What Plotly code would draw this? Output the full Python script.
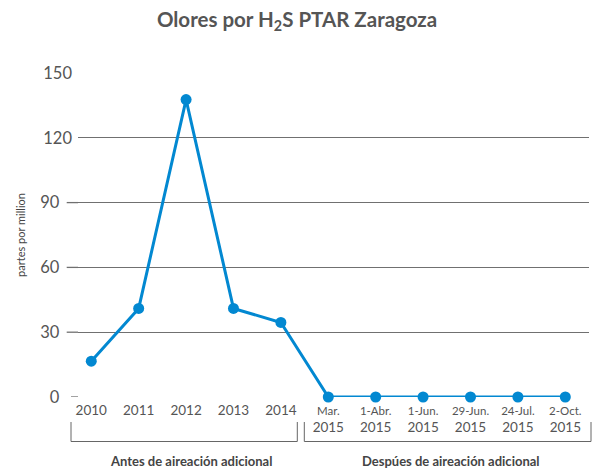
import plotly.graph_objects as go

categories = ["2010", "2011", "2012", "2013", "2014",
              "Mar. 2015", "1-Abr. 2015", "1-Jun. 2015", "29-Jun. 2015",
              "24-Jul. 2015", "2-Oct. 2015"]
values = [16.6, 41, 137.7, 41, 34.5, 0, 0, 0, 0, 0, 0]
tick_top = ["", "", "", "", "", "Mar.", "1-Abr.", "1-Jun.", "29-Jun.", "24-Jul.", "2-Oct."]
tick_bottom = ["2010", "2011", "2012", "2013", "2014", "2015", "2015", "2015", "2015", "2015", "2015"]
y_ticks = [0, 30, 60, 90, 120, 150]
group_labels = ["Antes de aireación adicional", "Despúes de aireación adicional"]

FONT = "Lato, 'Open Sans', sans-serif"
GRAY = "#555555"
BLUE = "#0288D1"

ticktext = []
for t, b in zip(tick_top, tick_bottom):
    if t:
        ticktext.append(f"<span style='font-size:11.5px'>{t}</span><br>{b}")
    else:
        ticktext.append(b)

nb = "\u00a0"
ytext = []
for v in y_ticks:
    s = str(v)
    if v < 100:
        s = s + nb * 3
    ytext.append(s)

fig = go.Figure()
fig.add_trace(go.Scatter(
    x=categories, y=values, mode="lines+markers",
    line=dict(color=BLUE, width=3),
    marker=dict(color=BLUE, size=11),
    cliponaxis=False, showlegend=False,
))

fig.update_layout(
    width=594, height=470,
    margin=dict(l=78, r=5, t=73, b=73),
    plot_bgcolor="white", paper_bgcolor="white",
    font=dict(family=FONT, color=GRAY),
    title=dict(text="Olores por H<sub>2</sub>S PTAR Zaragoza",
               x=0.5, xref="container", xanchor="center",
               y=1 - 20 / 470, yanchor="middle",
               font=dict(family=FONT, size=20.5, color=GRAY, weight=700)),
    xaxis=dict(type="category", range=[-0.28, 10.5],
               tickmode="array", tickvals=categories, ticktext=ticktext,
               tickfont=dict(size=13.5, color=GRAY), ticklabelstandoff=3,
               showgrid=False, showline=False, zeroline=False, ticks=""),
    yaxis=dict(range=[0, 150], tickmode="array", tickvals=y_ticks, ticktext=ytext,
               tickfont=dict(size=16.5, color=GRAY), ticklabelstandoff=5,
               showgrid=True, gridcolor="#707070", gridwidth=1.3,
               zeroline=False, showline=False, ticks="",
               title=dict(text="partes por million", standoff=12,
                          font=dict(size=11, color="#444444"))),
)

# extend short gridlines to the left, as in the reference
W = 594 - 78 - 5
def px(xp):
    return (xp - 78) / W
for v in y_ticks:
    if v in (30, 60, 90):
        x0 = px(66.7)
    elif v == 0:
        x0 = px(71)
    else:
        continue
    fig.add_shape(type="line", xref="paper", yref="y", x0=x0, x1=0, y0=v, y1=v,
                  line=dict(color="#707070", width=1.3))

# group brackets
H = 470 - 73 - 73
def py(yp):
    return (397 - yp) / H
brackets = [(71, 297.3), (304.3, 591)]
for (a, b) in brackets:
    fig.add_shape(type="path", xref="paper", yref="paper",
                  path=f"M {px(a)} {py(422)} L {px(a)} {py(441.5)} L {px(b)} {py(441.5)} L {px(b)} {py(422)}",
                  line=dict(color="#666666", width=1))
centers = [191, 451]
for lab, c in zip(group_labels, centers):
    fig.add_annotation(text=lab, xref="paper", yref="paper", x=px(c), y=py(461),
                       xanchor="center", yanchor="middle", showarrow=False,
                       font=dict(family=FONT, size=13, color="#444444", weight=700))

fig.write_html("out.html", config={"displayModeBar": False},
               post_script="document.body.style.margin='0';")
